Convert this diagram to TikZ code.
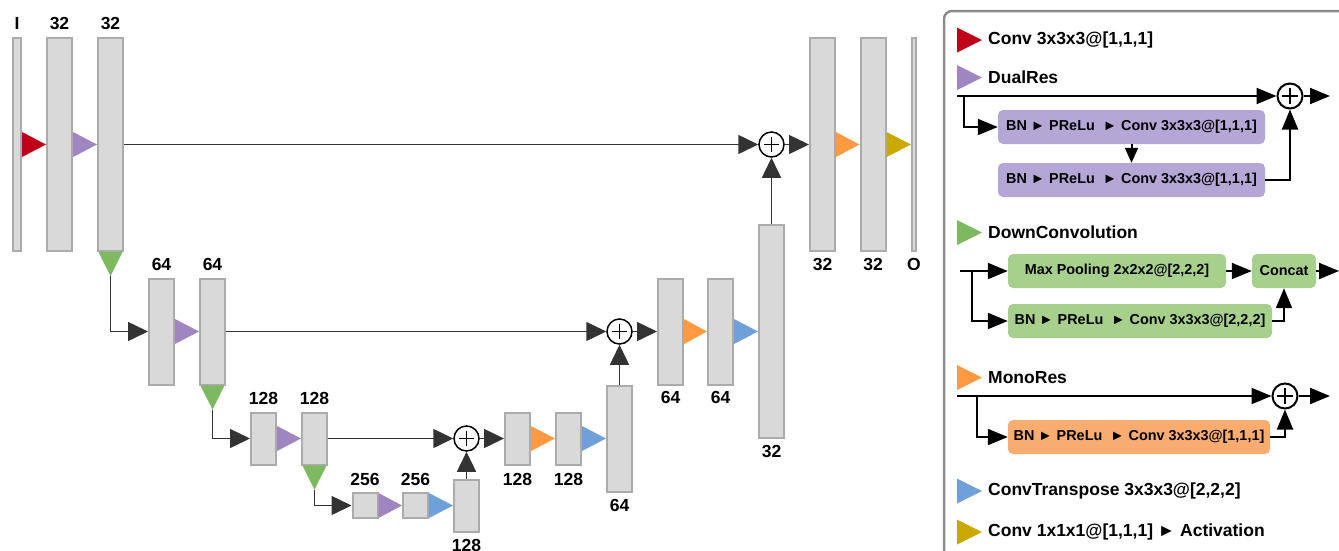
\documentclass[tikz,border=0pt]{standalone}
\usepackage{fontspec}
\setmainfont{Liberation Sans}
\usetikzlibrary{arrows.meta,positioning}

\definecolor{blkfill}{HTML}{D9D9D9}
\definecolor{blkline}{HTML}{ABABAB}
\definecolor{flowgray}{HTML}{333333}
\definecolor{framegray}{HTML}{8C8C8C}
\definecolor{redC}{HTML}{C00018}
\definecolor{purpleT}{HTML}{9F86C0}
\definecolor{purpleB}{HTML}{B4A7D6}
\definecolor{greenT}{HTML}{7DB95F}
\definecolor{greenB}{HTML}{A8D08D}
\definecolor{orangeT}{HTML}{FF9A42}
\definecolor{orangeB}{HTML}{F9AC70}
\definecolor{blueT}{HTML}{6FA0DA}
\definecolor{goldT}{HTML}{C9A800}

% coloured operation between two blocks
\newcommand{\optri}[3]{\fill[#1] ([yshift=12.5pt]#2.east) -- (#3.west) -- ([yshift=-12.5pt]#2.east) -- cycle;}
% down convolution below a block, tip named <block>tip
\newcommand{\downtri}[1]{\fill[greenT] ([xshift=-12pt]#1.south) -- ([xshift=12pt]#1.south) -- ([yshift=-24pt]#1.south) coordinate (#1tip) -- cycle;}
% legend key
\newcommand{\legkey}[2]{\fill[#1] (957,#2) ++(0,-12.5) -- ++(25,12.5) -- ++(-25,12.5) -- cycle;}

\begin{document}
\begin{tikzpicture}[x=1pt,y=-1pt,
  blk/.style={draw=blkline, fill=blkfill, line width=2pt, minimum width=25pt, inner sep=0pt},
  tall/.style={minimum height=213pt},
  mid/.style={minimum height=106pt},
  low/.style={minimum height=52pt},
  tiny/.style={minimum height=25.5pt},
  lbl/.style={font=\fontsize{17.5}{20}\selectfont\bfseries, inner sep=0pt},
  legtxt/.style={lbl, anchor=west},
  boxtxt/.style={font=\fontsize{14.4}{16}\selectfont\bfseries, inner sep=0pt, minimum height=34pt, rounded corners=5pt},
  purplebox/.style={boxtxt, fill=purpleB},
  greenbox/.style={boxtxt, fill=greenB},
  orangebox/.style={boxtxt, fill=orangeB},
  sum/.style={circle, draw=black, fill=white, line width=1.5pt, minimum size=25pt, inner sep=0pt,
    path picture={\draw[black, line width=1.5pt] (path picture bounding box.center) +(-7.5,0) -- +(7.5,0) +(0,-7.5) -- +(0,7.5);}},
  lsum/.style={sum, line width=2pt,
    path picture={\draw[black, line width=2pt] (path picture bounding box.center) +(-8,0) -- +(8,0) +(0,-8) -- +(0,8);}},
  flow/.style={draw=flowgray, line width=1.5pt, -{Triangle[length=20pt,width=19pt]}},
  legflow/.style={draw=black, line width=2pt, -{Triangle[length=20pt,width=16pt]}},
  legframe/.style={draw=framegray, line width=2.5pt, rounded corners=8pt}]
  \useasboundingbox (0,0) rectangle (1339,550);
  \clip (0,0) rectangle (1339,550);

  % encoder
  \node[blk, tall, minimum width=8pt] (in) at (17,144.5) {};
  \node[blk, tall] (e1a) at (59.5,144.5) {};
  \node[blk, tall] (e1b) at (110.5,144.5) {};
  \node[blk, mid] (e2a) at (161.5,331.5) {};
  \node[blk, mid] (e2b) at (212.5,331.5) {};
  \node[blk, low] (e3a) at (263.5,438.5) {};
  \node[blk, low] (e3b) at (314.5,438.5) {};
  \node[blk, tiny] (e4a) at (365,505.5) {};
  \node[blk, tiny] (e4b) at (415.5,505.5) {};
  % decoder
  \node[blk, low] (d3u) at (466.5,505.5) {};
  \node[sum] (s3) at (466.5,438.5) {};
  \node[blk, low] (d3a) at (517.5,438.5) {};
  \node[blk, low] (d3b) at (568.5,438.5) {};
  \node[blk, mid] (d2u) at (619.5,438.5) {};
  \node[sum] (s2) at (619.5,331.5) {};
  \node[blk, mid] (d2a) at (670.5,331.5) {};
  \node[blk, mid] (d2b) at (720.5,331.5) {};
  \node[blk, tall] (d1u) at (771.5,331.5) {};
  \node[sum] (s1) at (771.5,144.5) {};
  \node[blk, tall] (d1a) at (822.5,144.5) {};
  \node[blk, tall] (d1b) at (873,144.5) {};
  \node[blk, tall, minimum width=4pt] (out) at (914,144.5) {};

  % channel counts
  \node[lbl, above=7pt of in] (lin) {I};
  \node[lbl, above=7pt of e1a] (le1a) {32};
  \node[lbl, above=7pt of e1b] (le1b) {32};
  \node[lbl, above=7pt of e2a] (le2a) {64};
  \node[lbl, above=7pt of e2b] (le2b) {64};
  \node[lbl, above=7pt of e3a] (le3a) {128};
  \node[lbl, above=7pt of e3b] (le3b) {128};
  \node[lbl, above=6pt of e4a] (le4a) {256};
  \node[lbl, above=6pt of e4b] (le4b) {256};
  \node[lbl, below=7pt of d3u] (ld3u) {128};
  \node[lbl, below=8pt of d3a] (ld3a) {128};
  \node[lbl, below=8pt of d3b] (ld3b) {128};
  \node[lbl, below=7pt of d2u] (ld2u) {64};
  \node[lbl, below=6pt of d2a] (ld2a) {64};
  \node[lbl, below=6pt of d2b] (ld2b) {64};
  \node[lbl, below=6pt of d1u] (ld1u) {32};
  \node[lbl, below=6pt of d1a] (ld1a) {32};
  \node[lbl, below=6pt of d1b] (ld1b) {32};
  \node[lbl, below=6pt of out] (lout) {O};

  % operations
  \optri{redC}{in}{e1a}
  \optri{purpleT}{e1a}{e1b}
  \optri{purpleT}{e2a}{e2b}
  \optri{purpleT}{e3a}{e3b}
  \optri{purpleT}{e4a}{e4b}
  \optri{blueT}{e4b}{d3u}
  \optri{orangeT}{d3a}{d3b}
  \optri{blueT}{d3b}{d2u}
  \optri{orangeT}{d2a}{d2b}
  \optri{blueT}{d2b}{d1u}
  \optri{orangeT}{d1a}{d1b}
  \optri{goldT}{d1b}{out}
  \downtri{e1b}
  \downtri{e2b}
  \downtri{e3b}

  % connections
  \draw[flow] (e1btip) |- (e2a);
  \draw[flow] (e2btip) |- (e3a);
  \draw[flow] (e3btip) |- (e4a);
  \draw[flow] (e1b) -- (s1);
  \draw[flow] (e2b) -- (s2);
  \draw[flow] (e3b) -- (s3);
  \draw[flow] (d3u) -- (s3);
  \draw[flow] (d2u) -- (s2);
  \draw[flow] (d1u) -- (s1);
  \draw[flow] (s3) -- (d3a);
  \draw[flow] (s2) -- (d2a);
  \draw[flow] (s1) -- (d1a);

  % legend
  \draw[legframe] (944,11) rectangle (1380,600);
  \legkey{redC}{40}
  \node[legtxt] (kconv) at (988,40) {Conv 3x3x3@[1,1,1]};
  \legkey{purpleT}{77.5}
  \node[legtxt] (kdual) at (988,77.5) {DualRes};
  \legkey{greenT}{232.5}
  \node[legtxt] (kdown) at (988,232.5) {DownConvolution};
  \legkey{orangeT}{377.5}
  \node[legtxt] (kmono) at (988,377.5) {MonoRes};
  \legkey{blueT}{491}
  \node[legtxt] (ktrans) at (988,491) {ConvTranspose 3x3x3@[2,2,2]};
  \legkey{goldT}{532}
  \node[legtxt] (kact) at (988,532) {Conv 1x1x1@[1,1,1] ► Activation};

  % DualRes
  \coordinate (drin) at (957,96);
  \coordinate (drsplit) at (964,96);
  \coordinate (drout) at (1330,96);
  \node[lsum] (drs) at (1290,96) {};
  \node[purplebox, minimum width=267pt] (dr1) at (1131.5,127) {BN ► PReLu \ ► Conv 3x3x3@[1,1,1]};
  \node[purplebox, minimum width=267pt] (dr2) at (1131.5,180) {BN ► PReLu \ ► Conv 3x3x3@[1,1,1]};
  \draw[legflow] (drin) -- (drs);
  \draw[legflow] (drs) -- (drout);
  \draw[legflow] (drsplit) |- (dr1);
  \draw[legflow, -{Triangle[length=15pt,width=13pt]}] (dr1) -- (dr2);
  \draw[legflow] (dr2) -| (drs);

  % DownConvolution
  \coordinate (dcin) at (960,271);
  \coordinate (dcsplit) at (972,271);
  \coordinate (dcout) at (1339,271);
  \node[greenbox, minimum width=218pt] (mp) at (1117,271) {Max Pooling 2x2x2@[2,2,2]};
  \node[greenbox, minimum width=64pt] (cat) at (1284,271) {Concat};
  \node[greenbox, minimum width=264pt] (dc2) at (1140,321) {BN ► PReLu \ ► Conv 3x3x3@[2,2,2]};
  \draw[legflow] (dcin) -- (mp);
  \draw[legflow] (dcsplit) |- (dc2);
  \draw[legflow] (mp) -- (cat);
  \draw[legflow] (cat) -- (dcout);
  \draw[legflow] (dc2) -| (cat);

  % MonoRes
  \coordinate (mrin) at (957,396);
  \coordinate (mrsplit) at (977,396);
  \coordinate (mrout) at (1330,396);
  \node[lsum] (mrs) at (1285,396) {};
  \node[orangebox, minimum width=262pt] (mr1) at (1139,437) {BN ► PReLu \ ► Conv 3x3x3@[1,1,1]};
  \draw[legflow] (mrin) -- (mrs);
  \draw[legflow] (mrs) -- (mrout);
  \draw[legflow] (mrsplit) |- (mr1);
  \draw[legflow] (mr1) -| (mrs);
\end{tikzpicture}
\end{document}
